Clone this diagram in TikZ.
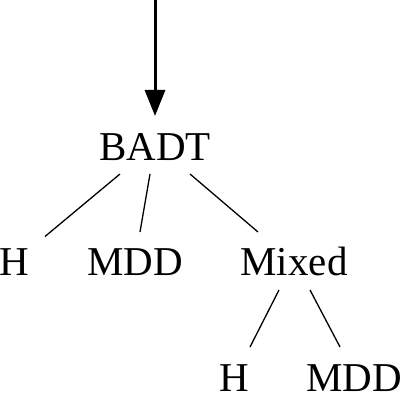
\documentclass[tikz,border=0pt]{standalone}
\usepackage{fontspec}
\setmainfont{Liberation Serif}
\usetikzlibrary{arrows.meta}
\begin{document}
\begin{tikzpicture}[x=1pt,y=-1pt,
  lbl/.style={anchor=base,inner sep=0pt,font=\fontsize{41}{45}\selectfont},
  edge/.style={line width=1.3pt},
  arr/.style={line width=3pt,-{Triangle[length=26pt,width=20pt]}}]
\useasboundingbox (0,0) rectangle (402,403);
\node[lbl] (badt) at (155,160.5) {BADT};
\node[lbl] (h1) at (14,275) {H};
\node[lbl] (mdd1) at (135,275) {MDD};
\node[lbl] (mixed) at (294,275) {Mixed};
\node[lbl] (h2) at (234,391) {H};
\node[lbl] (mdd2) at (354,391) {MDD};
\coordinate (top) at (155,0);
\draw[arr] (top) -- ([shift={(0,-44.5)}]badt.base);
\draw[edge] ([shift={(-35,13.5)}]badt.base) -- ([shift={(31,-38.5)}]h1.base);
\draw[edge] ([shift={(-5,13.5)}]badt.base) -- ([shift={(5,-43)}]mdd1.base);
\draw[edge] ([shift={(35,13.5)}]badt.base) -- ([shift={(-36,-43)}]mixed.base);
\draw[edge] ([shift={(-15,15)}]mixed.base) -- ([shift={(16,-44)}]h2.base);
\draw[edge] ([shift={(16,15)}]mixed.base) -- ([shift={(-14,-44)}]mdd2.base);
\end{tikzpicture}
\end{document}
